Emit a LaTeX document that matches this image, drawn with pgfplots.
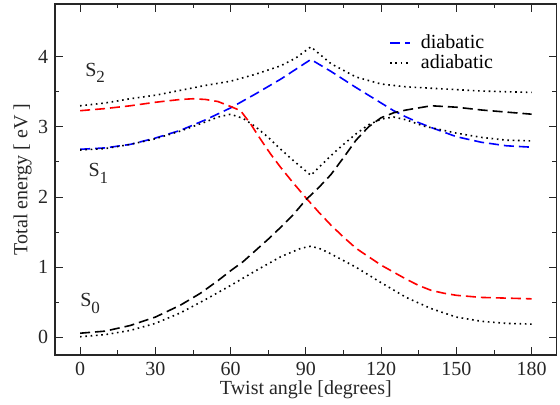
\documentclass[border=0pt]{standalone}
\usepackage{fontspec}
\setmainfont{Liberation Serif}
\usepackage{pgfplots}
\pgfplotsset{compat=1.18}
\newcommand{\St}[1]{S\raisebox{-6.5pt}{\fontsize{17}{17}\selectfont #1}}
\begin{document}
\fontsize{20}{24}\selectfont
\begin{tikzpicture}
\begin{axis}[scale only axis, width=501.7pt, height=351pt,
  xmin=-10, xmax=190, ymin=-0.25, ymax=4.75,
  xtick={0,30,...,180}, ytick={0,1,2,3,4},
  minor x tick num=1, minor y tick num=1,
  tick align=inside, major tick length=8pt, minor tick length=4.5pt,
  axis line style={line width=1.1pt, black!85},
  every tick/.style={line width=0.9pt, black!85},
  tick label style={font=\fontsize{20}{24}\selectfont, text=black!85},
  /pgf/number format/assume math mode=true,
  xlabel={Twist angle [degrees]}, ylabel={Total energy [ eV ]},
  label style={font=\fontsize{20}{24}\selectfont, text=black!85},
  xlabel style={yshift=8pt},
  ylabel style={yshift=-7pt},
  legend style={draw=none, fill=none, at={(0.66,0.925)}, anchor=north west,
    font=\fontsize{20}{24}\selectfont, row sep=-1pt,
    /tikz/every odd column/.append style={column sep=8pt}},
  legend cell align=left,
  legend image code/.code={\draw[#1] (0pt,0pt) -- (20pt,0pt);},
  dia/.style={line width=1.6pt, dash pattern=on 10pt off 5pt},
  adia/.style={black, line width=1.6pt, dash pattern=on 1.6pt off 3.7pt},
]
% diabatic S1 (blue)
\addplot[dia, blue] coordinates {(0,2.68)(10,2.70)(20,2.75)(30,2.84)(40,2.95)(50,3.10)(60,3.27)(70,3.47)(80,3.68)(92,3.96)(100,3.79)(110,3.56)(120,3.34)(125,3.23)(130,3.14)(135,3.06)(140,2.99)(150,2.86)(160,2.78)(170,2.73)(180,2.71)};
\addlegendentry{diabatic}
% adiabatic S1
\addplot[adia] coordinates {(0,2.67)(10,2.69)(20,2.75)(30,2.83)(40,2.94)(50,3.07)(55,3.14)(60,3.18)(65,3.12)(70,3.00)(75,2.85)(80,2.68)(85,2.52)(92,2.31)(100,2.59)(105,2.75)(110,2.90)(115,3.03)(120,3.11)(125,3.14)(130,3.10)(137,3.01)(145,2.95)(150,2.91)(160,2.85)(170,2.81)(180,2.80)};
\addlegendentry{adiabatic}
% adiabatic S2
\addplot[adia, forget plot] coordinates {(0,3.30)(10,3.34)(20,3.40)(30,3.45)(40,3.52)(50,3.59)(60,3.65)(70,3.75)(80,3.87)(86,3.98)(92,4.14)(100,3.90)(110,3.71)(120,3.61)(130,3.57)(140,3.55)(150,3.53)(160,3.51)(170,3.50)(180,3.49)};
% adiabatic S0
\addplot[adia, forget plot] coordinates {(0,0.01)(10,0.04)(20,0.10)(30,0.20)(40,0.35)(50,0.54)(60,0.74)(70,0.95)(80,1.15)(88,1.27)(92,1.30)(96,1.26)(100,1.19)(110,1.00)(120,0.78)(130,0.57)(140,0.41)(150,0.29)(160,0.23)(170,0.20)(180,0.19)};
% diabatic (red)
\addplot[dia, red, forget plot] coordinates {(0,3.23)(10,3.26)(20,3.30)(30,3.35)(40,3.39)(45,3.40)(50,3.39)(55,3.36)(60,3.29)(64,3.23)(68,3.04)(72,2.82)(76,2.61)(80,2.42)(85,2.20)(90,1.99)(95,1.79)(100,1.60)(105,1.43)(110,1.27)(115,1.15)(120,1.03)(125,0.93)(130,0.83)(135,0.74)(140,0.67)(145,0.63)(150,0.60)(160,0.57)(170,0.56)(180,0.55)};
% diabatic (black)
\addplot[dia, black, forget plot] coordinates {(0,0.06)(10,0.09)(20,0.17)(30,0.29)(40,0.46)(48,0.63)(55,0.81)(60,0.95)(65,1.08)(70,1.24)(75,1.40)(80,1.57)(85,1.75)(90,1.96)(95,2.13)(100,2.32)(105,2.56)(110,2.81)(115,3.00)(120,3.13)(125,3.20)(130,3.24)(140,3.30)(150,3.28)(160,3.24)(170,3.21)(180,3.18)};
\node[anchor=base west, inner sep=0pt, text=black!85] at (axis cs:2,3.72) {\St{2}};
\node[anchor=base west, inner sep=0pt, text=black!85] at (axis cs:3.3,2.29) {\St{1}};
\node[anchor=base west, inner sep=0pt, text=black!85] at (axis cs:0,0.44) {\St{0}};
\end{axis}
\pgfresetboundingbox
\path[use as bounding box] ([xshift=-55pt,yshift=-50pt]current axis.south west) rectangle ([xshift=3.3pt,yshift=4pt]current axis.north east);
\end{tikzpicture}
\end{document}
